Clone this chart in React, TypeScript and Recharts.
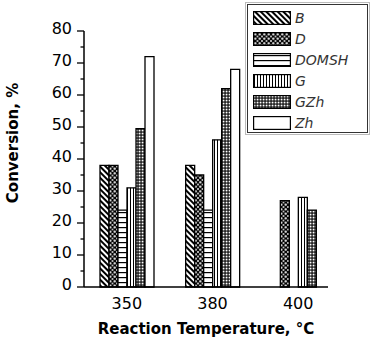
import React from "react";
import { BarChart, Bar, XAxis, YAxis, Label } from "recharts";

const categories = ["350", "380", "400"];
const seriesNames = ["B", "D", "DOMSH", "G", "GZh", "Zh"];
const valuesB = [38, 38, null];
const valuesD = [38, 35, 27];
const valuesDOMSH = [24, 24, null];
const valuesG = [31, 46, 28];
const valuesGZh = [49.5, 62, 24];
const valuesZh = [72, 68, null];
const yTicks = [0, 5, 10, 15, 20, 25, 30, 35, 40, 45, 50, 55, 60, 65, 70, 75, 80];

const seriesValues = [valuesB, valuesD, valuesDOMSH, valuesG, valuesGZh, valuesZh];

const data = categories.map((cat, i) => {
  const row: Record<string, string | number | null> = { cat };
  seriesNames.forEach((name, s) => {
    row[name] = seriesValues[s][i];
  });
  return row;
});

const FONT = "'DejaVu Sans', Arial, sans-serif";

// pattern defs, prefix lets the legend svgs use their own ids
function Patterns({ prefix }: { prefix: string }) {
  return (
    <defs>
      <pattern id={`${prefix}-B`} width={4} height={4} patternUnits="userSpaceOnUse" patternTransform="rotate(-45)">
        <rect width={4} height={4} fill="#fff" />
        <rect width={2} height={4} fill="#000" />
      </pattern>
      <pattern id={`${prefix}-D`} width={4.5} height={4.5} patternUnits="userSpaceOnUse">
        <rect width={4.5} height={4.5} fill="#000" />
        <circle cx={2.25} cy={2.25} r={1.15} fill="#fff" />
        <circle cx={0} cy={0} r={0.9} fill="#fff" />
        <circle cx={4.5} cy={0} r={0.9} fill="#fff" />
        <circle cx={0} cy={4.5} r={0.9} fill="#fff" />
        <circle cx={4.5} cy={4.5} r={0.9} fill="#fff" />
      </pattern>
      <pattern id={`${prefix}-DOMSH`} width={5} height={5} patternUnits="userSpaceOnUse">
        <rect width={5} height={5} fill="#fff" />
        <rect y={2} width={5} height={1.2} fill="#000" />
      </pattern>
      <pattern id={`${prefix}-G`} width={3} height={3} patternUnits="userSpaceOnUse">
        <rect width={3} height={3} fill="#fff" />
        <rect x={1} width={1} height={3} fill="#000" />
      </pattern>
      <pattern id={`${prefix}-GZh`} width={3} height={3} patternUnits="userSpaceOnUse">
        <rect width={3} height={3} fill="#000" />
        <rect x={0.6} y={0.6} width={1.9} height={1.9} fill="#fff" />
      </pattern>
      <pattern id={`${prefix}-Zh`} width={4} height={4} patternUnits="userSpaceOnUse">
        <rect width={4} height={4} fill="#fff" />
      </pattern>
    </defs>
  );
}

const YTick = (props: any) => {
  const { x, y, payload } = props;
  const major = payload.value % 10 === 0;
  return (
    <g>
      <line x1={x - (major ? 7 : 3.5)} x2={x} y1={y} y2={y} stroke="#000" strokeWidth={1.3} />
      {major && (
        <text x={x - 12} y={y} dy="0.2em" textAnchor="end" fontSize={16} fontFamily={FONT} fill="#000">
          {payload.value}
        </text>
      )}
    </g>
  );
};

const YTitle = (props: any) => {
  const { viewBox } = props;
  const cx = 13;
  const cy = viewBox.y + viewBox.height / 2 - 16;
  return (
    <text
      x={cx}
      y={cy}
      transform={`rotate(-90 ${cx} ${cy})`}
      textAnchor="middle"
      dominantBaseline="central"
      fontSize={15}
      fontWeight="bold"
      fontFamily={FONT}
      fill="#000"
    >
      Conversion, %
    </text>
  );
};

function LegendBox() {
  return (
    <div
      style={{
        position: "absolute",
        left: 247,
        top: 4,
        width: 121,
        height: 129,
        border: "1px solid #333",
        outline: "1px solid #bbb",
        outlineOffset: 1,
        background: "#fff",
        paddingTop: 2,
        boxSizing: "border-box",
      }}
    >
      {seriesNames.map((name) => (
        <div key={name} style={{ display: "flex", alignItems: "center", height: 21, paddingLeft: 5 }}>
          <svg width={38} height={14} style={{ display: "block" }}>
            <Patterns prefix={`lg-${name}`} />
            <rect x={0.6} y={0.6} width={36.8} height={12.8} fill={`url(#lg-${name}-${name})`} stroke="#000" strokeWidth={1.2} />
          </svg>
          <span
            style={{
              marginLeft: 4,
              fontFamily: FONT,
              fontStyle: "italic",
              fontSize: 14,
              color: "#333",
              lineHeight: "14px",
            }}
          >
            {name}
          </span>
        </div>
      ))}
    </div>
  );
}

export default function App() {
  return (
    <div style={{ position: "absolute", left: 0, top: 0, width: 374, height: 338, background: "#fff" }}>
      <BarChart
        width={374}
        height={338}
        data={data}
        margin={{ top: 31, right: 46, left: 0, bottom: 0 }}
        barSize={9}
        barGap={0}
      >
        <Patterns prefix="ch" />
        <XAxis
          dataKey="cat"
          height={51}
          padding={{ left: 0, right: -13 }}
          tickLine={false}
          tickSize={0}
          tickMargin={11}
          axisLine={{ stroke: "#000", strokeWidth: 1.5 }}
          tick={{ fontSize: 16, fontFamily: FONT, fill: "#000" }}
        >
          <Label
            value="Reaction Temperature, °C"
            position="insideBottom"
            offset={4}
            style={{ fontSize: 15, fontWeight: "bold", fontFamily: FONT, fill: "#000" }}
          />
        </XAxis>
        <YAxis
          width={84}
          domain={[0, 80]}
          ticks={yTicks}
          interval={0}
          tickSize={0}
          tickMargin={0}
          tickLine={false}
          axisLine={{ stroke: "#000", strokeWidth: 1.5 }}
          tick={<YTick />}
        >
          <Label content={<YTitle />} />
        </YAxis>
        {seriesNames.map((name) => (
          <Bar
            key={name}
            dataKey={name}
            fill={`url(#ch-${name})`}
            stroke="#000"
            strokeWidth={1.3}
            isAnimationActive={false}
          />
        ))}
      </BarChart>
      <LegendBox />
    </div>
  );
}
